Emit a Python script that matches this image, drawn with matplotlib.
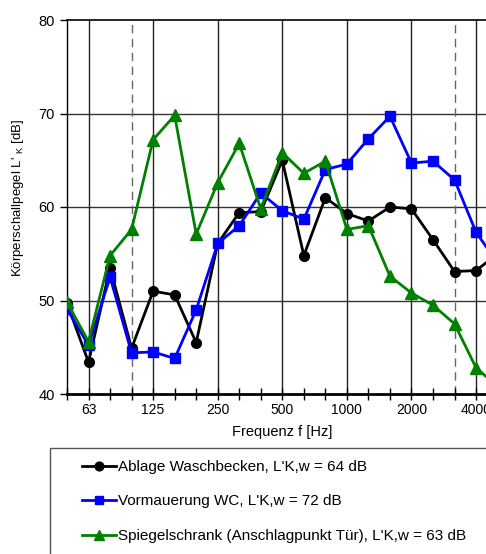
import matplotlib.pyplot as plt
import numpy as np
from matplotlib.patches import Rectangle

plt.rcParams['font.family'] = ['Liberation Sans', 'DejaVu Sans']

# third-octave bands 50 Hz .. 5000 Hz
freqs = [50, 63, 80, 100, 125, 160, 200, 250, 315, 400, 500, 630, 800,
         1000, 1250, 1600, 2000, 2500, 3150, 4000, 5000]
octave_labels = ["63", "125", "250", "500", "1000", "2000", "4000"]

ablage = [49.7, 43.4, 53.5, 44.9, 51.0, 50.6, 45.5, 56.1, 59.4, 59.5, 65.0,
          54.8, 61.0, 59.3, 58.5, 60.0, 59.8, 56.5, 53.1, 53.2, 55.0]
vormauerung = [49.1, 45.2, 52.5, 44.4, 44.5, 43.8, 49.0, 56.1, 58.0, 61.5, 59.6,
               58.7, 64.0, 64.6, 67.3, 69.7, 64.7, 64.9, 62.9, 57.3, 54.0]
spiegel = [49.8, 45.6, 54.8, 57.6, 67.2, 69.8, 57.1, 62.6, 66.8, 59.8, 65.8,
           63.6, 64.9, 57.6, 58.0, 52.6, 50.8, 49.5, 47.5, 42.8, 40.8]

labels = ["Ablage Waschbecken, L'K,w = 64 dB",
          "Vormauerung WC, L'K,w = 72 dB",
          "Spiegelschrank (Anschlagpunkt Tür), L'K,w = 63 dB"]

x = np.arange(len(freqs))

fig = plt.figure(figsize=(4.86, 5.54), dpi=100)
ax = fig.add_axes([67/486, 1-394/554, (497.6-67)/486, 374/554])

# grid
for v in [50, 60, 70]:
    ax.axhline(v, color='#333333', lw=1, zorder=1)
for lab in octave_labels:
    ax.axvline(freqs.index(int(lab)), color='#222222', lw=1, zorder=1)
for f in [100, 3150]:
    ax.axvline(freqs.index(f), color='#666666', lw=1, ls=(0, (6, 4)), zorder=1)

l1, = ax.plot(x, ablage, color='black', lw=2, marker='o', ms=7, zorder=3)
l2, = ax.plot(x, vormauerung, color='#0000ff', lw=2, marker='s', ms=7, zorder=3)
l3, = ax.plot(x, spiegel, color='#008000', lw=2, marker='^', ms=8, zorder=3)

ax.set_xlim(0, 20)
ax.set_ylim(40, 80)
ax.set_yticks([40, 50, 60, 70, 80])
ax.set_xticks(x)
ax.set_xticklabels([str(f) if str(f) in octave_labels else "" for f in freqs])
ax.tick_params(axis='x', direction='inout', length=9, width=1, labelsize=10, pad=2)
ax.tick_params(axis='y', direction='out', length=5, width=1, labelsize=10.5, pad=4)

ax.spines['right'].set_visible(False)
ax.spines['bottom'].set_linewidth(2)
ax.spines['left'].set_linewidth(1)
ax.spines['top'].set_linewidth(1.2)

ax.set_xlabel("Frequenz f [Hz]", fontsize=10.5, labelpad=6)
ax.set_ylabel("Körperschallpegel L' $_{\\mathregular{K}}$ [dB]", fontsize=9.5)
ax.yaxis.set_label_coords(-0.095, 0.524)

# legend frame
fig.patches.append(Rectangle((50/486, -0.05), 1.0, 1-448/554+0.05,
                             transform=fig.transFigure, fill=False,
                             edgecolor='#555555', lw=1))
fig.legend([l1, l2, l3], labels, loc='upper left',
           bbox_to_anchor=(82/486, 1-460/554), frameon=False, fontsize=11,
           handlelength=2.2, handletextpad=0.15, labelspacing=1.34,
           borderpad=0, borderaxespad=0, markerscale=0.9)

fig.savefig("out.png", dpi=100)
